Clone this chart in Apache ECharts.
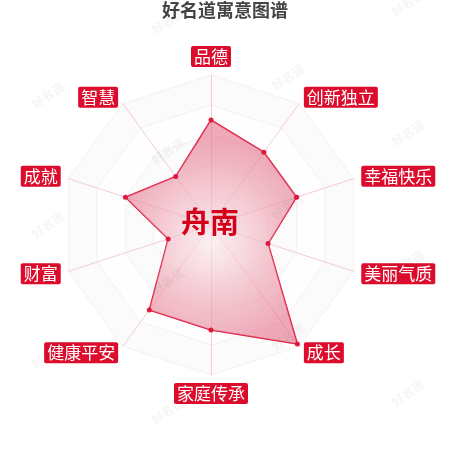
<!DOCTYPE html>
<html>
<head>
<meta charset="utf-8">
<script src="https://cdn.jsdelivr.net/npm/echarts@6/dist/echarts.min.js"></script>
<style>
  html, body { margin: 0; padding: 0; background: #fff; }
  #chart { width: 450px; height: 450px; }
</style>
</head>
<body>
<div id="chart"></div>
<script>
// indicators listed counter-clockwise from the top, as echarts lays them out
const indicatorNames = ['品德', '智慧', '成就', '财富', '健康平安', '家庭传承', '成长', '美丽气质', '幸福快乐', '创新独立'];
const scoreValues = [70, 40, 60, 30, 70, 70, 98, 40, 60, 60];
const scoreMax = 100;
const personName = '舟南';
const chartTitle = '好名道寓意图谱';
const watermarkText = '好名道';

const red = '#dc0c2c';

const watermarks = [];
for (let i = 0; i < 4; i++) {
  for (let j = -1; j < 4; j++) {
    const x = 48 + 120 * i;
    const y = 95 + 56 * i + 130 * j - (i > 2 ? 130 : 0);
    if (y < -10 || y > 460) continue;
    watermarks.push({
      type: 'text',
      x: x,
      y: y,
      rotation: 0.6,
      silent: true,
      z: 100,
      style: {
        text: watermarkText,
        fill: 'rgba(0,0,0,0.045)',
        font: 'bold 12px "Noto Sans CJK SC"',
        align: 'center',
        verticalAlign: 'middle'
      }
    });
  }
}

const chart = echarts.init(document.getElementById('chart'), null, { renderer: 'canvas' });

chart.setOption({
  backgroundColor: '#fff',
  animation: false,
  title: {
    text: chartTitle,
    left: 'center',
    top: 0,
    padding: [1, 5],
    textStyle: { color: '#444', fontSize: 18, fontWeight: 'bold', fontFamily: 'Noto Sans CJK SC' }
  },
  graphic: watermarks.concat([{
    type: 'text',
    x: 210,
    y: 222,
    z: 50,
    style: {
      text: personName,
      fill: '#d3001c',
      font: 'bold 29px "Noto Sans CJK SC"',
      align: 'center',
      verticalAlign: 'middle'
    }
  }]),
  radar: {
    center: [211, 225],
    radius: 150,
    startAngle: 90,
    splitNumber: 5,
    shape: 'polygon',
    nameGap: 8,
    indicator: indicatorNames.map(name => ({ name, max: scoreMax })),
    axisName: {
      color: '#fff',
      fontSize: 17,
      fontFamily: 'Noto Sans CJK SC',
      backgroundColor: red,
      borderRadius: 2,
      padding: [2, 3]
    },
    axisLine: { lineStyle: { color: '#f4ccd4', width: 1 } },
    splitLine: { lineStyle: { color: '#efe3e5', type: 'dotted', width: 1 } },
    splitArea: { show: true, areaStyle: { color: ['rgba(250,247,248,0.5)', 'rgba(252,252,252,0.3)'] } }
  },
  series: [{
    type: 'radar',
    symbol: 'circle',
    symbolSize: 5,
    lineStyle: { color: '#e0183c', width: 1.5 },
    itemStyle: { color: '#e0183c' },
    areaStyle: {
      color: {
        type: 'radial',
        x: 0.5,
        y: 0.55,
        r: 0.6,
        colorStops: [
          { offset: 0, color: 'rgba(250,236,239,0.95)' },
          { offset: 1, color: 'rgba(228,112,136,0.85)' }
        ]
      }
    },
    data: [{ value: scoreValues, name: personName }]
  }]
});
</script>
</body>
</html>
